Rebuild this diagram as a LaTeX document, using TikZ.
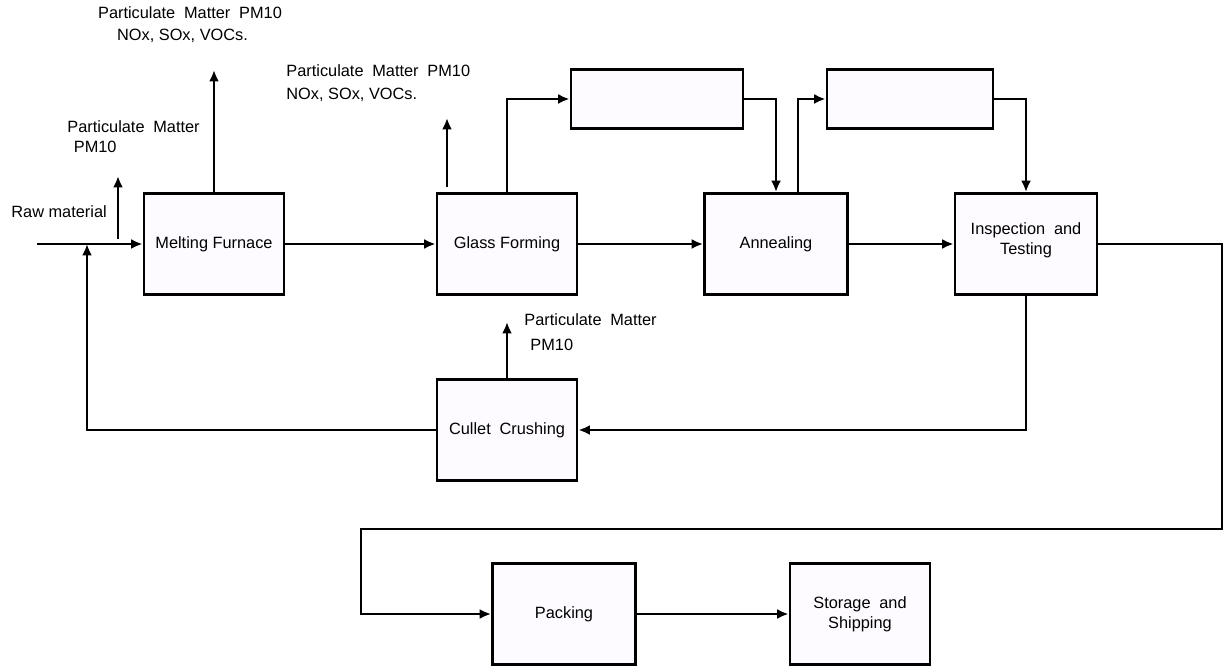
\documentclass[tikz,border=0pt]{standalone}
\usepackage{fontspec}
\setmainfont{Liberation Sans}
\usetikzlibrary{arrows.meta,calc}
\definecolor{boxfill}{RGB}{253,251,255}
\newcommand{\labfont}{\fontsize{9.3}{11.5}\selectfont}
\newcommand{\widefont}{\labfont\spaceskip=5pt plus 1pt\relax}
\newcommand{\widesp}[1]{{\spaceskip=5pt plus 1pt\relax #1}}

\begin{document}
\begin{tikzpicture}[x=0.02cm, y=-0.02cm, line width=1.6pt,
    stage/.style={draw, fill=boxfill, minimum width=2.8cm, minimum height=2.02cm,
        inner sep=2pt, align=center, font=\widefont},
    blank/.style={draw, fill=boxfill, minimum height=1.18cm},
    flow/.style={-{Latex[length=2.3mm,width=2mm]}},
    emis/.style={inner sep=0pt, font=\labfont}]
    \useasboundingbox (0,0) rectangle (1223,668);

    % process boxes
    \node[stage, font=\labfont] (melt) at (214,244) {Melting Furnace};
    \node[stage, font=\labfont] (form) at (507,244) {Glass Forming};
    \node[stage, minimum width=2.86cm] (anneal) at (776,244) {Annealing};
    \node[stage, minimum width=2.84cm] (inspect) at (1026,244) {Inspection and\\Testing\\[-5pt]};
    \node[stage] (cullet) at (507,430) {Cullet Crushing};
    \node[stage, minimum width=2.86cm] (pack) at (564,614) {Packing};
    \node[stage] (store) at (860,614) {Storage and\\Shipping};

    \node[blank, minimum width=3.44cm] (top1) at (657,99) {};
    \node[blank, minimum width=3.32cm] (top2) at (910,99) {};

    % feed and return
    \coordinate (raw) at (37,244);
    \coordinate (join) at (87,244);
    \node[emis, anchor=west] (rawlab) at (10,212) {Raw material};
    \draw[flow] (raw) -- (melt.west);
    \draw[flow] (cullet.west) -| (join);

    % main line
    \draw[flow] (melt.east) -- (form.west);
    \draw[flow] (form.east) -- (anneal.west);
    \draw[flow] (anneal.east) -- (inspect.west);

    % side loops on top
    \draw[flow] (form.north) |- (top1.west);
    \draw[flow] (top1.east) -| (anneal.north);
    \draw[flow] ([xshift=0.44cm]anneal.north) |- (top2.west);
    \draw[flow] (top2.east) -| (inspect.north);

    % cullet back
    \draw[flow] (inspect.south) |- (cullet.east);

    % on to packing
    \coordinate (r1) at (1222,244);
    \coordinate (r2) at (1222,529);
    \coordinate (r3) at (361,529);
    \draw[flow] (inspect.east) -- (r1) -- (r2) -- (r3) |- (pack.west);
    \draw[flow] (pack.east) -- (store.west);

    % emissions
    \coordinate (e0a) at (118,239);
    \coordinate (e0b) at (118,176);
    \draw[flow] (e0a) -- (e0b);
    \node[emis, anchor=north west, align=left] (pm0) at (66,119)
        {\widesp{Particulate Matter}\\\hspace{1.3mm}PM10};

    \coordinate (e1) at (214,70);
    \draw[flow] (melt.north) -- (e1);
    \node[emis, align=center] (pm1) at (190,25)
        {\widesp{Particulate Matter PM10}\\[1pt]\hspace{-3mm}NOx, SOx, VOCs.};

    \coordinate (e2a) at (447,187);
    \coordinate (e2b) at (447,118);
    \draw[flow] (e2a) -- (e2b);
    \node[emis, anchor=west, align=left] (pm2) at (285,83)
        {\widesp{Particulate Matter PM10}\\[2pt]NOx, SOx, VOCs.};

    \coordinate (e3) at (507,322);
    \draw[flow] (cullet.north) -- (e3);
    \node[emis, anchor=west, align=left] (pm3) at (523,332)
        {\widesp{Particulate Matter}\\[3pt]\hspace{1.2mm}PM10};
\end{tikzpicture}
\end{document}
